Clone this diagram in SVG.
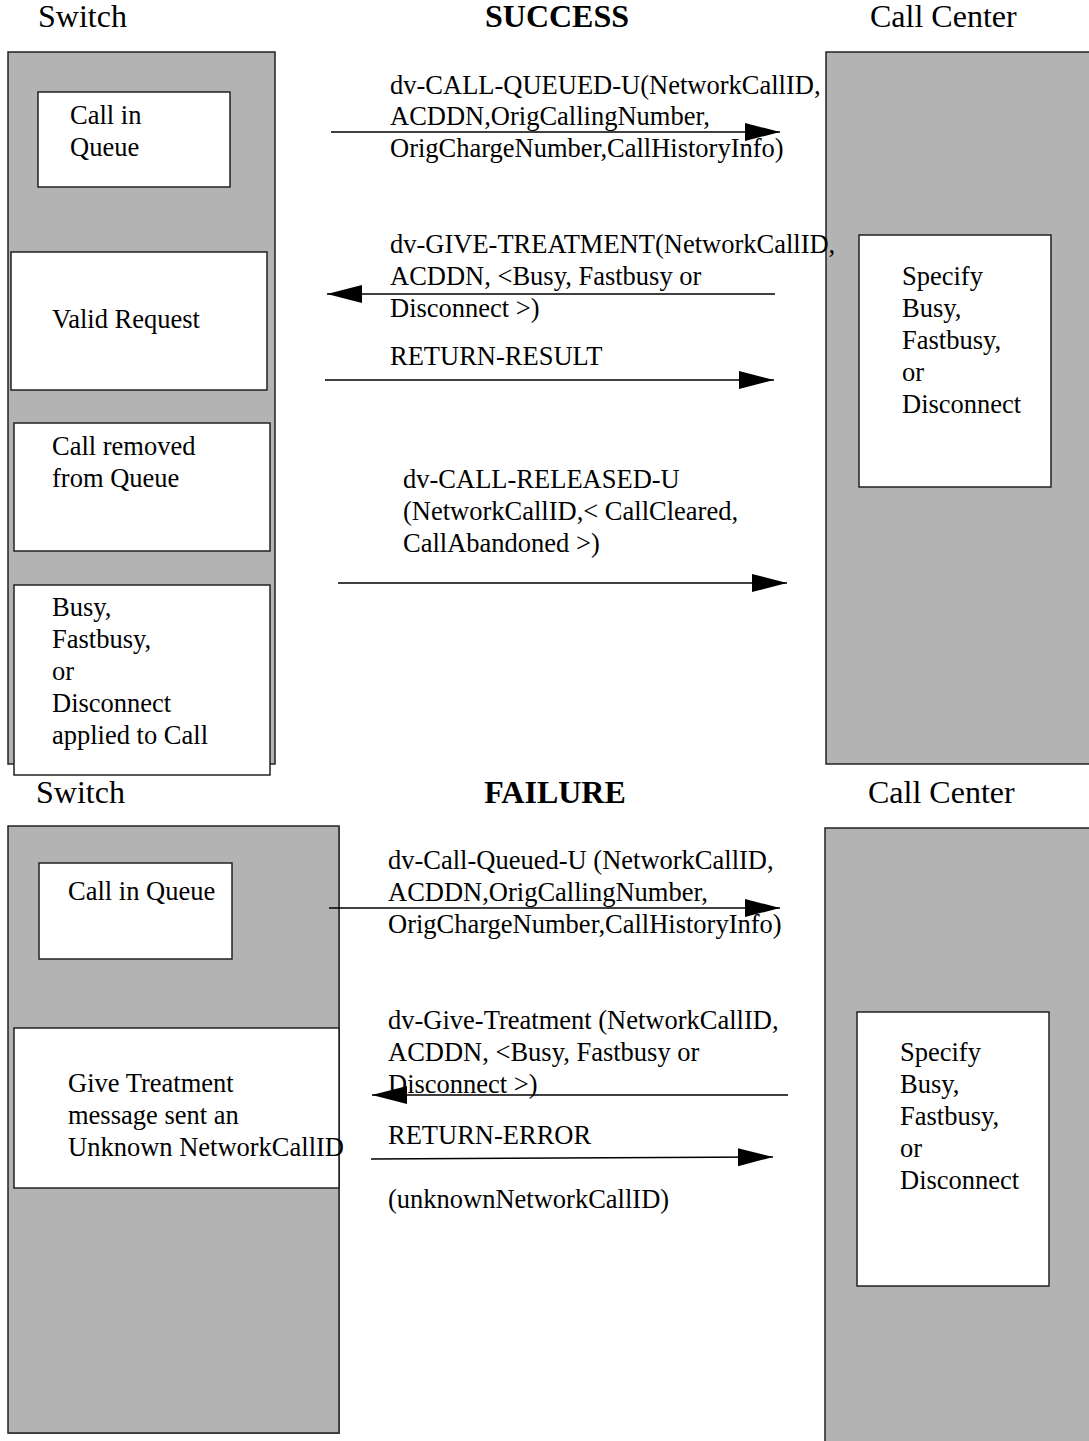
<svg xmlns="http://www.w3.org/2000/svg" width="1089" height="1441" viewBox="0 0 1089 1441">
  <style>
    text { font-family: "Liberation Serif", "Times New Roman", serif; font-size: 26.5px; fill: #000; }
    .head { font-size: 32px; }
    .bold { font-weight: bold; }
    .panel { fill: #b3b3b3; stroke: #222; stroke-width: 1.5; }
    .box { fill: #fff; stroke: #222; stroke-width: 1.5; }
    .msg { stroke: #000; stroke-width: 1.5; fill: none; marker-end: url(#head); }
  </style>
  <defs>
    <marker id="head" markerUnits="userSpaceOnUse" markerWidth="36" markerHeight="20" refX="35" refY="10" orient="auto" viewBox="0 0 36 20">
      <path d="M0,1 L35,10 L0,19 z" fill="#000"/>
    </marker>
  </defs>

  <rect width="1089" height="1441" fill="#fff"/>

  <!-- SUCCESS scenario -->
  <g id="success-titles">
    <text class="head" x="38" y="27">Switch</text>
    <text class="head bold" x="557" y="27" text-anchor="middle">SUCCESS</text>
    <text class="head" x="870" y="27">Call Center</text>
  </g>

  <g id="switch-success">
    <rect class="panel" x="8" y="52" width="267" height="712"/>
  </g>
  <g id="callcenter-success">
    <rect class="panel" x="826" y="52" width="280" height="712"/>
  </g>

  <g id="s-call-in-queue">
    <rect class="box" x="38" y="92" width="192" height="95"/>
    <text x="70" y="124">Call in</text>
    <text x="70" y="156">Queue</text>
  </g>
  <g id="s-valid-request">
    <rect class="box" x="11" y="252" width="256" height="138"/>
    <text x="52" y="328">Valid Request</text>
  </g>
  <g id="s-call-removed">
    <rect class="box" x="14" y="423" width="256" height="128"/>
    <text x="52" y="455">Call removed</text>
    <text x="52" y="487">from Queue</text>
  </g>
  <g id="s-treatment-applied">
    <rect class="box" x="14" y="585" width="256" height="190"/>
    <text x="52" y="616">Busy,</text>
    <text x="52" y="648">Fastbusy,</text>
    <text x="52" y="680">or</text>
    <text x="52" y="712">Disconnect</text>
    <text x="52" y="744">applied to Call</text>
  </g>
  <g id="s-specify">
    <rect class="box" x="859" y="235" width="192" height="252"/>
    <text x="902" y="285">Specify</text>
    <text x="902" y="317">Busy,</text>
    <text x="902" y="349">Fastbusy,</text>
    <text x="902" y="381">or</text>
    <text x="902" y="413">Disconnect</text>
  </g>

  <g id="success-labels">
    <text x="390" y="94">dv-CALL-QUEUED-U(NetworkCallID,</text>
    <text x="390" y="125">ACDDN,OrigCallingNumber,</text>
    <text x="390" y="157">OrigChargeNumber,CallHistoryInfo)</text>
    <text x="390" y="253">dv-GIVE-TREATMENT(NetworkCallID,</text>
    <text x="390" y="285">ACDDN, &lt;Busy, Fastbusy or</text>
    <text x="390" y="317">Disconnect &gt;)</text>
    <text x="390" y="365">RETURN-RESULT</text>
    <text x="403" y="488">dv-CALL-RELEASED-U</text>
    <text x="403" y="520">(NetworkCallID,&lt; CallCleared,</text>
    <text x="403" y="552">CallAbandoned &gt;)</text>
  </g>

  <!-- FAILURE scenario -->
  <g id="failure-titles">
    <text class="head" x="36" y="803">Switch</text>
    <text class="head bold" x="555" y="803" text-anchor="middle">FAILURE</text>
    <text class="head" x="868" y="803">Call Center</text>
  </g>

  <g id="switch-failure">
    <rect x="9" y="827" width="331" height="607" fill="#888"/>
    <rect class="panel" x="8" y="826" width="331" height="607"/>
  </g>
  <g id="callcenter-failure">
    <rect class="panel" x="825" y="828" width="280" height="640"/>
  </g>

  <g id="f-call-in-queue">
    <rect class="box" x="39" y="863" width="193" height="96"/>
    <text x="68" y="900">Call in Queue</text>
  </g>
  <g id="f-unknown-id">
    <rect class="box" x="14" y="1028" width="325" height="160"/>
    <text x="68" y="1092">Give Treatment</text>
    <text x="68" y="1124">message sent an</text>
    <text x="68" y="1156">Unknown NetworkCallID</text>
  </g>
  <g id="f-specify">
    <rect class="box" x="857" y="1012" width="192" height="274"/>
    <text x="900" y="1061">Specify</text>
    <text x="900" y="1093">Busy,</text>
    <text x="900" y="1125">Fastbusy,</text>
    <text x="900" y="1157">or</text>
    <text x="900" y="1189">Disconnect</text>
  </g>

  <g id="failure-labels">
    <text x="388" y="869">dv-Call-Queued-U (NetworkCallID,</text>
    <text x="388" y="901">ACDDN,OrigCallingNumber,</text>
    <text x="388" y="933">OrigChargeNumber,CallHistoryInfo)</text>
    <text x="388" y="1029">dv-Give-Treatment (NetworkCallID,</text>
    <text x="388" y="1061">ACDDN, &lt;Busy, Fastbusy or</text>
    <text x="388" y="1093">Disconnect &gt;)</text>
    <text x="388" y="1144">RETURN-ERROR</text>
    <text x="388" y="1208">(unknownNetworkCallID)</text>
  </g>

  <!-- message arrows -->
  <g id="connectors">
    <line class="msg" x1="331" y1="132" x2="780" y2="132"/>
    <line class="msg" x1="775" y1="294" x2="327" y2="294"/>
    <line class="msg" x1="325" y1="380" x2="774" y2="380"/>
    <line class="msg" x1="338" y1="583" x2="787" y2="583"/>
    <line class="msg" x1="329" y1="908" x2="780" y2="908"/>
    <line class="msg" x1="788" y1="1095" x2="372" y2="1095"/>
    <line class="msg" x1="371" y1="1159" x2="773" y2="1157"/>
  </g>
</svg>
